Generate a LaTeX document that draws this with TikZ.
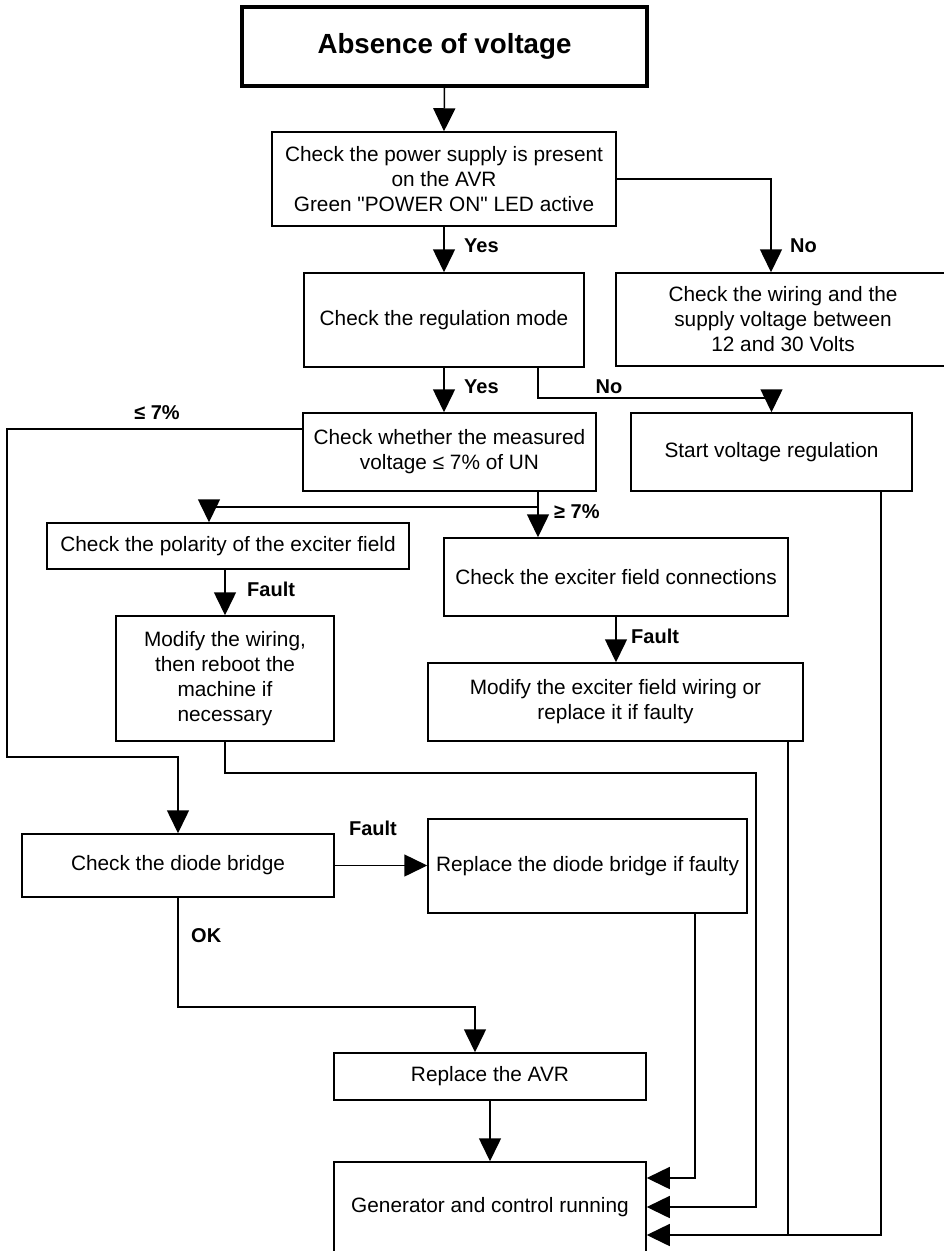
\documentclass[tikz,border=0pt]{standalone}
\usepackage{fontspec}
\setmainfont{Liberation Sans}
\usetikzlibrary{arrows.meta}
\newcommand{\straightdq}{\XeTeXglyph\XeTeXcharglyph"0022\relax}
\begin{document}
\begin{tikzpicture}[x=1pt,y=-1pt,
  box/.style={draw, line width=1.5pt, inner sep=0pt, align=center,
    font=\fontsize{20.8}{25}\selectfont},
  titlebox/.style={draw, line width=3.3pt, inner sep=0pt, align=center,
    font=\bfseries\fontsize{27.7}{33}\selectfont},
  lbl/.style={inner sep=0pt, font=\bfseries\fontsize{20}{24}\selectfont},
  conn/.style={line width=1.5pt},
  arr/.style={line width=1.5pt, -{Triangle[length=23pt,width=22pt]}}]
\useasboundingbox (0,0) rectangle (943,1251);
\fill[white] (0,0) rectangle (943,1251);

% boxes
\node[titlebox, minimum width=405pt, minimum height=79pt] (title) at (444.5,46.5) {Absence of voltage};
\node[box, minimum width=344pt, minimum height=94pt] (ps) at (444,179)
  {Check the power supply is present\\on the AVR\\Green \straightdq POWER ON\straightdq\ LED active};
\node[box, minimum width=280pt, minimum height=94pt] (reg) at (444,320) {Check the regulation mode};
\node[box, minimum width=334pt, minimum height=93pt] (wir) at (783,319.5)
  {Check the wiring and the\\supply voltage between\\12 and 30 Volts};
\node[box, minimum width=293pt, minimum height=78pt] (meas) at (449.5,452)
  {Check whether the measured\\voltage ≤ 7\% of UN};
\node[box, minimum width=281pt, minimum height=78pt] (start) at (771.5,452) {Start voltage regulation};
\node[box, minimum width=362pt, minimum height=46pt] (pol) at (228,546) {Check the polarity of the exciter field};
\node[box, minimum width=344pt, minimum height=78pt] (cnx) at (616,577) {Check the exciter field connections};
\node[box, minimum width=218pt, minimum height=125pt] (modw) at (225,678.5)
  {Modify the wiring,\\then reboot the\\machine if\\necessary};
\node[box, minimum width=375pt, minimum height=78pt] (mode) at (615.5,702)
  {Modify the exciter field wiring or\\replace it if faulty};
\node[box, minimum width=312pt, minimum height=63pt] (diode) at (178,865.5) {Check the diode bridge};
\node[box, minimum width=319pt, minimum height=94pt] (repd) at (587.5,866) {Replace the diode bridge if faulty};
\node[box, minimum width=312pt, minimum height=47pt] (avr) at (490,1076.5) {Replace the AVR};
\node[box, minimum width=312pt, minimum height=90pt] (gen) at (490,1207) {Generator and control running};

% helper coordinates
\coordinate (k1) at (771,179);
\coordinate (k2) at (538,398);
\coordinate (k3) at (7,429);
\coordinate (k3b) at (7,757);
\coordinate (k4) at (538,507);
\coordinate (k5) at (209,507);
\coordinate (k6) at (788,1235);
\coordinate (k7) at (881,1235);
\coordinate (k8) at (695,1178);
\coordinate (k9) at (225,773);
\coordinate (k10) at (756,773);
\coordinate (k11) at (178,1007);
\coordinate (k12) at (475,1007);

% connectors
\draw[arr] (title.south) -- (ps.north);
\draw[arr] (ps.south) -- (reg.north);
\draw[arr] (ps.east) -- (k1) -- (k1 |- wir.north);
\draw[arr] (reg.south) -- (reg.south |- meas.north);
\draw[arr] (k2 |- reg.south) -- (k2) -| (start.north);
\draw[arr] (k3 -| meas.west) -- (k3) -- (k3b) -| (diode.north);
\draw[conn] (k4 |- meas.south) -- (k4) -- (k5);
\draw[arr] (k5) -- (k5 |- pol.north);
\draw[arr] (k4) -- (k4 |- cnx.north);
\draw[arr] (modw.north |- pol.south) -- (modw.north);
\draw[arr] (cnx.south) -- (cnx.south |- mode.north);
\draw[arr] (modw.south) -- (k9) -- (k10) |- (gen.east);
\draw[conn] (k6 |- mode.south) -- (k6);
\draw[arr] (k7 |- start.south) -- (k7) -- (k7 -| gen.east);
\draw[arr] (diode.east) -- (diode.east -| repd.west);
\draw[arr] (diode.south) -- (k11) -- (k12) -- (k12 |- avr.north);
\draw[arr] (avr.south) -- (gen.north);
\draw[arr] (k8 |- repd.south) -- (k8) -- (k8 -| gen.east);

% labels
\node[lbl, anchor=west] (l1) at (464,246) {Yes};
\node[lbl, anchor=west] (l2) at (790,246) {No};
\node[lbl, anchor=west] (l3) at (464,387) {Yes};
\node[lbl] (l4) at (609,387) {No};
\node[lbl] (l5) at (157,413) {≤ 7\%};
\node[lbl, anchor=west] (l6) at (554,512) {≥ 7\%};
\node[lbl, anchor=west] (l7) at (247,589) {Fault};
\node[lbl, anchor=west] (l8) at (631,636) {Fault};
\node[lbl] (l9) at (373,828) {Fault};
\node[lbl, anchor=west] (l10) at (191,936) {OK};
\end{tikzpicture}
\end{document}
